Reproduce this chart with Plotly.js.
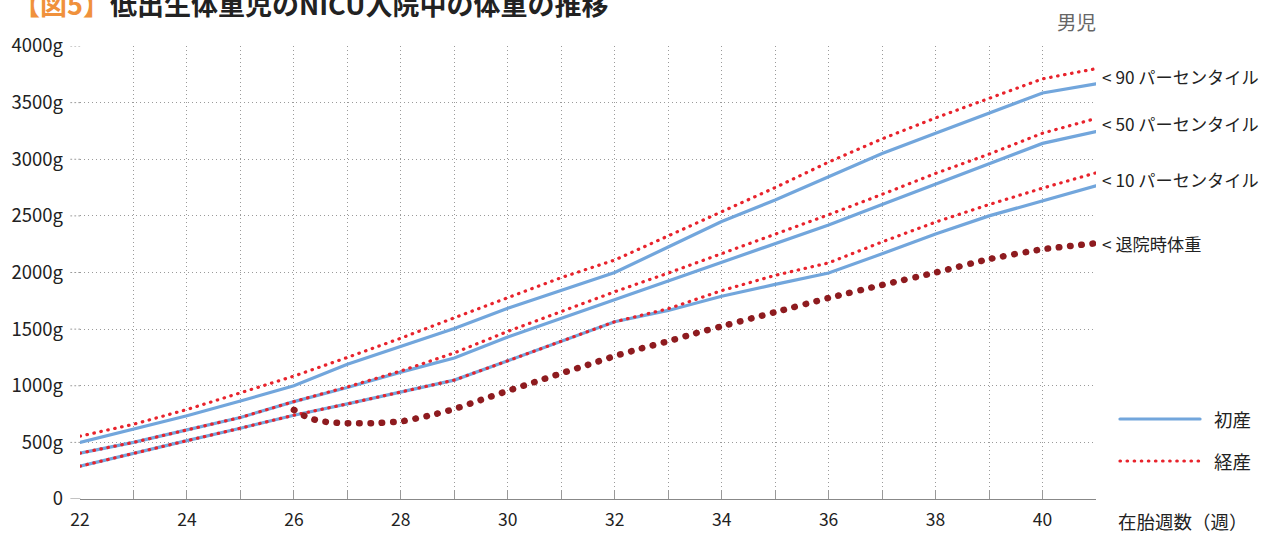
<!DOCTYPE html>
<html><head><meta charset="utf-8">
<script src="https://cdn.plot.ly/plotly-3.0.1.min.js"></script>
<style>
html,body{margin:0;padding:0;background:#fff;}
#chart{width:1275px;height:534px;}
.scatterlayer .js-line, .shapelayer path{stroke-linecap:round;}
</style></head><body>
<div id="chart"></div>
<script>
// gestational weeks
const weeks = [22,23,24,25,26,27,28,29,30,31,32,33,34,35,36,37,38,39,40,41];
const xTickLabels = ['22','','24','','26','','28','','30','','32','','34','','36','','38','','40',''];
const yTickVals = [0,500,1000,1500,2000,2500,3000,3500,4000];
const yTickLabels = ['0','500g','1000g','1500g','2000g','2500g','3000g','3500g','4000g'];

// 初産 (primiparous) percentiles
const primi90 = [500,615,735,865,1000,1190,1345,1505,1685,1845,2000,2225,2450,2640,2845,3050,3230,3405,3585,3665];
const primi50 = [405,500,610,720,860,985,1120,1245,1430,1595,1760,1920,2090,2250,2420,2600,2780,2955,3140,3245];
const primi10 = [290,405,515,625,740,840,945,1050,1220,1390,1565,1665,1790,1895,1995,2165,2340,2500,2630,2765];
// 経産 (multiparous) percentiles
const multi90 = [555,660,790,935,1085,1250,1420,1600,1775,1955,2110,2325,2540,2750,2975,3180,3365,3535,3710,3800];
const multi50 = [405,500,610,720,860,990,1130,1290,1480,1655,1830,1995,2165,2340,2510,2690,2875,3045,3230,3360];
const multi10 = [290,405,515,625,740,840,945,1050,1220,1390,1565,1680,1840,1975,2085,2270,2445,2600,2745,2880];

// 退院時体重 (weight during NICU stay)
const stayWeeks = [26,26.2,26.4,26.6,26.8,27,27.5,28,28.5,29,29.5,30,30.5,31,31.5,32,32.5,33,33.5,34,35,36,37,38,39,40,41];
const stayWeight = [787,734,699,681,673,670,670,685,733,795,875,955,1032,1110,1185,1262,1330,1393,1462,1525,1650,1775,1890,2000,2118,2205,2258];

const rightLabels = ['< 90 パーセンタイル','< 50 パーセンタイル','< 10 パーセンタイル','< 退院時体重'];
const rightLabelY = [3735,3320,2817,2260];

const BLUE = '#72a6dc', RED = '#e8232c', DARK = '#8e1b1f';
const FONT = '"Noto Sans CJK JP", "Noto Sans", sans-serif';
const GRID = '#9a9a9a';

const blueLine = {color: BLUE, width: 3.2};
const redLine = {color: RED, width: 3.2, dash: '0.5px,6.6px'};

const traces = [
  {x: weeks, y: primi90, mode:'lines', line: blueLine},
  {x: weeks, y: primi50, mode:'lines', line: blueLine},
  {x: weeks, y: primi10, mode:'lines', line: blueLine},
  {x: weeks, y: multi90, mode:'lines', line: redLine},
  {x: weeks, y: multi50, mode:'lines', line: redLine},
  {x: weeks, y: multi10, mode:'lines', line: redLine},
  {x: stayWeeks, y: stayWeight, mode:'lines', line: {color: DARK, width: 6.5, dash: '0.5px,10.8px', shape:'spline', smoothing:0.6}}
].map(t => Object.assign(t, {hoverinfo:'skip', showlegend:false}));

const annotations = rightLabels.map((t,i) => ({
  xref:'paper', x:1, xanchor:'left', xshift:4, yref:'y', y:rightLabelY[i], yanchor:'middle',
  text:t, showarrow:false, font:{family:FONT, size:17.2, color:'#222'}
}));
annotations.push(
  {xref:'paper', x:0, xshift:-69, xanchor:'left', yref:'paper', y:1.093, yanchor:'middle',
   text:'<b><span style="color:#f0913c">【図5】</span>低出生体重児のNICU入院中の体重の推移</b>',
   showarrow:false, font:{family:FONT, size:27, color:'#222'}},
  {xref:'paper', x:1, xanchor:'right', xshift:2, yref:'paper', y:1, yshift:25, yanchor:'middle',
   text:'男児', showarrow:false, font:{family:FONT, size:19.5, color:'#666'}},
  {xref:'paper', x:1, xanchor:'left', xshift:20, yref:'paper', y:0, yshift:-22, yanchor:'middle',
   text:'在胎週数（週）', showarrow:false, font:{family:FONT, size:18.5, color:'#222'}},
  {xref:'paper', x:1, xanchor:'left', xshift:116, yref:'paper', y:0, yshift:80, yanchor:'middle',
   text:'初産', showarrow:false, font:{family:FONT, size:18.5, color:'#222'}},
  {xref:'paper', x:1, xanchor:'left', xshift:116, yref:'paper', y:0, yshift:38, yanchor:'middle',
   text:'経産', showarrow:false, font:{family:FONT, size:18.5, color:'#222'}}
);

// gridline / axis stubs to the left of the plot, one per y tick
const shapes = yTickVals.map(v => ({
  type:'line', xref:'paper', yref:'y', x0:-0.0091, x1:0, y0:v, y1:v,
  line: v === 0 ? {color:'#888', width:1.2} : {color:GRID, width:1, dash:'1px,3px'}
}));
shapes.push(
  {type:'line', xref:'paper', yref:'paper', x0:1.0236, x1:1.1024, y0:0.1766, y1:0.1766, line:{color:BLUE, width:3.2}},
  {type:'line', xref:'paper', yref:'paper', x0:1.0236, x1:1.1024, y0:0.0839, y1:0.0839, line:{color:RED, width:3.2, dash:'0.5px,6.6px'}}
);

const layout = {
  width:1275, height:534,
  margin:{l:80, r:179, t:46, b:35},
  paper_bgcolor:'#fff', plot_bgcolor:'#fff',
  font:{family:FONT, size:16, color:'#222'},
  xaxis:{range:[22,41], tickmode:'array', tickvals:weeks, ticktext:xTickLabels,
    showgrid:true, gridcolor:GRID, gridwidth:1, griddash:'1px,3px',
    showline:true, linecolor:'#888', linewidth:1.2,
    ticks:'inside', ticklen:9, tickcolor:'#999', tickwidth:1,
    tickfont:{family:FONT, size:17.5, color:'#222'}, ticklabelstandoff:5, zeroline:false, fixedrange:true},
  yaxis:{range:[0,4000], tickmode:'array', tickvals:yTickVals, ticktext:yTickLabels,
    showgrid:true, gridcolor:GRID, gridwidth:1, griddash:'1px,3px',
    showline:false, ticks:'', zeroline:false,
    tickfont:{family:FONT, size:18.5, color:'#222'}, ticklabelstandoff:16, fixedrange:true},
  annotations, shapes, showlegend:false
};

Plotly.newPlot('chart', traces, layout, {staticPlot:true, displayModeBar:false});
</script>
</body></html>
